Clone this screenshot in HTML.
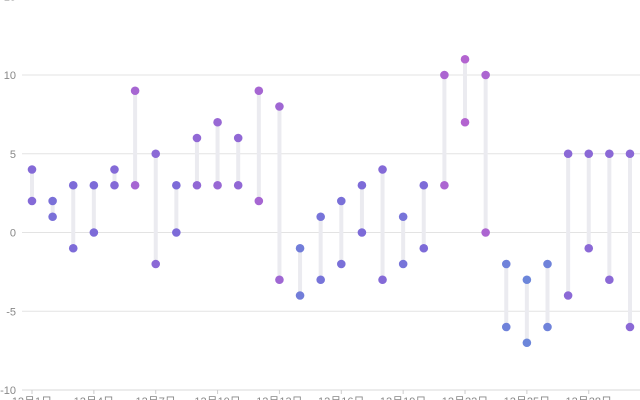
<!DOCTYPE html>
<html><head><meta charset="utf-8"><style>body{margin:0;background:#fff}svg{display:block}</style></head><body>
<svg id="s" width="640" height="400" xmlns="http://www.w3.org/2000/svg" font-family="Liberation Sans, Noto Sans CJK SC, sans-serif" font-size="11" fill="#888"></svg>
<script>
const s=document.getElementById('s');let h='';
const Y=v=>232.5-v*15.75;
for(let v=-10;v<=15;v+=5){const y=Y(v);
 if(v>-10) h+=`<line x1="22" x2="640" y1="${y}" y2="${y}" stroke="#e3e3e3" stroke-width="1"/>`;
 h+=`<text x="16" y="${y+4}" text-anchor="end">${v}</text>`;}
h+=`<line x1="22" x2="640" y1="${Y(-10)}" y2="${Y(-10)}" stroke="#d8d8d8"/>`;
const d=[[4,2],[2,1],[3,-1],[3,0],[4,3],[9,3],[5,-2],[3,0],[6,3],[7,3],[6,3],[9,2],[8,-3],[-1,-4],[1,-3],[2,-2],[3,0],[4,-3],[1,-2],[3,-1],[10,3],[11,7],[10,0],[-2,-6],[-3,-7],[-2,-6],[5,-4],[5,-1],[5,-3],[5,-6]];
const X=i=>32+i*20.62;
function lerp(a,b,t){return a.map((x,k)=>Math.round(x+(b[k]-x)*t));}
function col(m){let c;if(m<=3){c=lerp([108,134,218],[125,107,216],Math.max(0,(m+3)/6));}else c=lerp([125,107,216],[179,100,208],Math.min(1,(m-3)/8));return `rgb(${c})`;}
for(let i=0;i<30;i++){const x=X(i);if(i%3==0){h+=`<line x1="${x}" x2="${x}" y1="390" y2="394" stroke="#ccc"/>`;h+=`<text x="${x}" y="405" text-anchor="middle">12月${i+1}日</text>`;}}
d.forEach((p,i)=>{const x=X(i);h+=`<line x1="${x}" x2="${x}" y1="${Y(p[0])}" y2="${Y(p[1])}" stroke="#ebebf0" stroke-width="4"/>`;});
d.forEach((p,i)=>{const x=X(i),c=col(p[0]);h+=`<circle cx="${x}" cy="${Y(p[0])}" r="4.3" fill="${c}"/><circle cx="${x}" cy="${Y(p[1])}" r="4.3" fill="${c}"/>`;});
s.innerHTML=h;
</script>
</body></html>
